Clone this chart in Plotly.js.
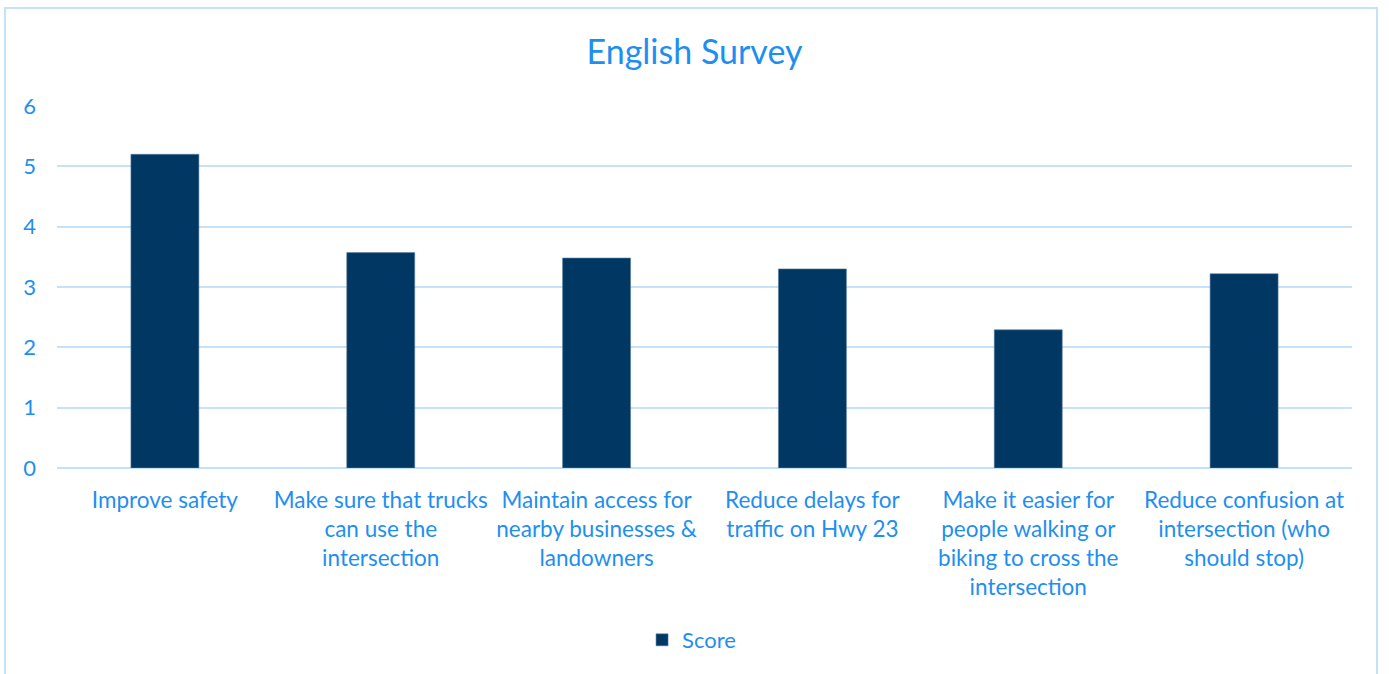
<!DOCTYPE html>
<html>
<head>
<meta charset="utf-8">
<script src="https://cdn.plot.ly/plotly-3.0.1.min.js"></script>
<style>
  html, body { margin: 0; padding: 0; background: #fff; overflow: hidden; }
  #frame { position: absolute; left: 4px; top: 7px; width: 1374px; height: 680px; border: 2px solid #C6E2F8; box-sizing: border-box; }
  #chart { position: absolute; left: 0; top: 0; width: 1389px; height: 674px; }
</style>
</head>
<body>
<div id="frame"></div>
<div id="chart"></div>
<script>
const categories = [
  "Improve safety",
  "Make sure that trucks<br>can use the<br>intersection",
  "Maintain access for<br>nearby businesses &<br>landowners",
  "Reduce delays for<br>traffic on Hwy 23",
  "Make it easier for<br>people walking or<br>biking to cross the<br>intersection",
  "Reduce confusion at<br>intersection (who<br>should stop)"
];
const scores = [5.2, 3.57, 3.48, 3.3, 2.29, 3.22];
const yTicks = [0, 1, 2, 3, 4, 5, 6];

const textColor = "#1E8FEF";
const gridColor = "#C6E2F8";
const font = "Lato, 'Open Sans', sans-serif";

const data = [{
  type: "bar",
  name: "Score",
  x: categories,
  y: scores,
  width: 0.315,
  marker: { color: "#003763", line: { color: "#5A7FA0", width: 0.6 } },
  hoverinfo: "x+y"
}];

const layout = {
  width: 1389,
  height: 674,
  paper_bgcolor: "rgba(0,0,0,0)",
  plot_bgcolor: "rgba(0,0,0,0)",
  margin: { l: 57, r: 37, t: 106, b: 206 },
  title: {
    text: "English Survey",
    font: { family: font, size: 34, color: textColor },
    x: 0.5, xanchor: "center",
    y: 1 - 52 / 674, yanchor: "middle"
  },
  font: { family: font, color: textColor, size: 22 },
  xaxis: {
    type: "category",
    tickfont: { family: font, size: 22.5, color: textColor },
    showgrid: false,
    showline: false,
    ticks: "",
    ticklabelstandoff: 16,
    tickangle: 0,
    fixedrange: true
  },
  yaxis: {
    range: [0, 6],
    tickvals: yTicks,
    ticktext: yTicks.map(String),
    tickfont: { family: font, size: 22, color: textColor },
    showgrid: true,
    gridcolor: gridColor,
    gridwidth: 2,
    zeroline: true,
    zerolinecolor: gridColor,
    zerolinewidth: 2,
    ticks: "",
    ticklabelstandoff: 20,
    fixedrange: true
  },
  showlegend: true,
  legend: {
    orientation: "h",
    x: 0.49, xanchor: "center",
    y: -(640 - 468) / 362, yanchor: "middle",
    font: { family: font, size: 22, color: textColor },
    itemwidth: 30
  },
  bargap: 0.685
};

Plotly.newPlot("chart", data, layout, { displayModeBar: false, staticPlot: true });
</script>
</body>
</html>
